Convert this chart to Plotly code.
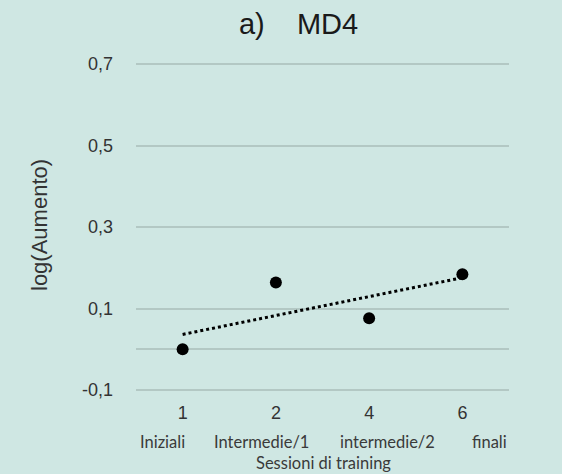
import numpy as np
import plotly.graph_objects as go

# ---- data ----
sessions = ["1", "2", "4", "6"]
phase_labels = ["Iniziali", "Intermedie/1", "intermedie/2", "finali"]
log_gain = [0.0, 0.164, 0.076, 0.184]
y_ticks = [-0.1, 0.1, 0.3, 0.5, 0.7]
y_tick_text = ["-0,1", "0,1", "0,3", "0,5", "0,7"]

BG = "#cfe7e3"
GRID = "#b3c8c4"
ARIAL = "Liberation Sans, Arial, sans-serif"
CALIBRI = "Lato, Carlito, Calibri, sans-serif"

# linear trendline (least squares over category index)
idx = np.arange(len(sessions))
coef = np.polyfit(idx, log_gain, 1)
trend = np.polyval(coef, idx)

fig = go.Figure()
fig.add_trace(go.Scatter(
    x=sessions, y=trend, mode="lines",
    line=dict(color="black", width=3, dash="dot"),
    hoverinfo="skip", showlegend=False,
))
fig.add_trace(go.Scatter(
    x=sessions, y=log_gain, mode="markers",
    marker=dict(color="black", size=12),
    showlegend=False,
))

W, H = 562, 474
L, R, T, B = 136, 53, 62, 82
pw = W - L - R
ph = H - T - B
pad = 2 / 407.5  # keep edge gridlines visible (plotly hides grid at exact edges)


def py(px_y):
    return (H - B - px_y) / ph


def pxx(px_x):
    return (px_x - L) / pw


# phase labels (second line under the category numbers)
label_px = [162, 261, 387, 489]
for txt, px in zip(phase_labels, label_px):
    fig.add_annotation(
        text=txt, xref="paper", yref="paper",
        x=pxx(px), y=py(442), borderpad=0,
        xanchor="center", yanchor="middle", showarrow=False,
        font=dict(family=CALIBRI, size=16.5, color="#3a3a3a"),
    )
fig.add_annotation(
    text="Sessioni di training", xref="paper", yref="paper",
    x=pxx(323), y=py(463), borderpad=0,
    xanchor="center", yanchor="middle", showarrow=False,
    font=dict(family=CALIBRI, size=16.5, color="#3a3a3a"),
)
fig.add_annotation(
    text="log(Aumento)", xref="paper", yref="paper",
    x=pxx(39), y=py(225), textangle=-90,
    xanchor="center", yanchor="middle", showarrow=False,
    font=dict(family=ARIAL, size=22, color="#333333"),
)

fig.update_layout(
    width=W, height=H,
    margin=dict(l=L, r=R, t=T, b=B),
    paper_bgcolor=BG, plot_bgcolor=BG,
    title=dict(
        text="a)\u00a0\u00a0\u00a0\u00a0MD4",
        x=298.5 / W, xanchor="center", xref="container",
        y=1 - 24 / H, yanchor="middle", yref="container",
        font=dict(family=ARIAL, size=29, color="#1a1a1a"),
    ),
    xaxis=dict(
        type="category", range=[-0.5, 3.5],
        showgrid=False, zeroline=False, showline=False,
        ticks="", ticklabelstandoff=8,
        tickfont=dict(family=ARIAL, size=18, color="#333333"),
    ),
    yaxis=dict(
        range=[-0.1 - pad, 0.7 + pad], tickvals=y_ticks, ticktext=y_tick_text,
        showgrid=True, gridcolor=GRID, gridwidth=2,
        zeroline=True, zerolinecolor=GRID, zerolinewidth=2,
        showline=False, ticks="", ticklabelstandoff=22,
        tickfont=dict(family=ARIAL, size=18, color="#333333"),
    ),
)

fig.write_html(
    "out.html",
    config={"displayModeBar": False},
    post_script="document.body.style.margin='0';document.body.style.overflow='hidden';",
)
